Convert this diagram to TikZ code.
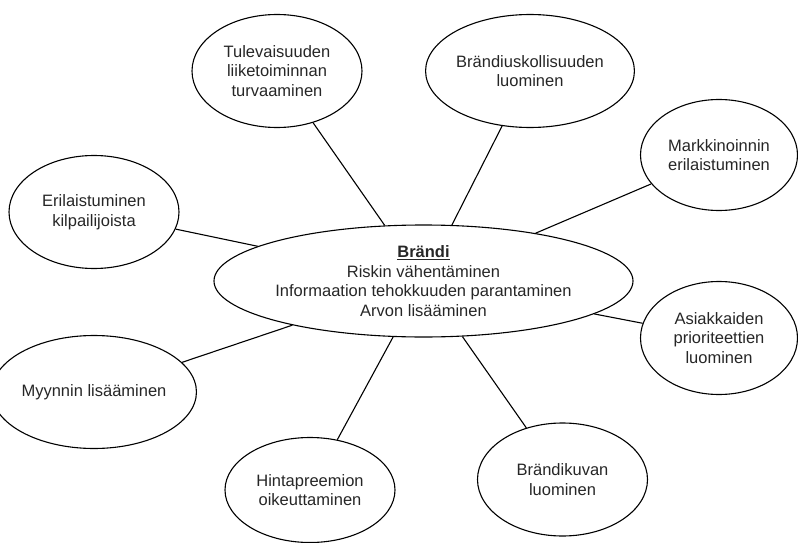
\documentclass[tikz,border=0pt]{standalone}
\usepackage{fontspec}
\setmainfont{Liberation Sans}
\usetikzlibrary{shapes.geometric}
\begin{document}
\begin{tikzpicture}[x=1pt,y=-1pt,
  bubble/.style={draw=black, line width=1.1pt, ellipse, inner sep=0pt, minimum width=170pt, minimum height=113pt, align=center, text=black!85, font=\fontsize{16.5}{19.5}\selectfont},
  core/.style={bubble, minimum width=356pt, minimum height=112pt},
  narrow/.style={minimum width=157pt},
  link/.style={draw=black, line width=1.1pt}]
\useasboundingbox (0,0) rectangle (798,543);
\node[core] (c) at (423.5,281) {\underline{\textbf{Brändi}}\\Riskin vähentäminen\\Informaation tehokkuuden parantaminen\\Arvon lisääminen};
\node[bubble] (t) at (277,71) {Tulevaisuuden\\liiketoiminnan\\turvaaminen};
\node[bubble] (b) at (530,71) {Brändiuskollisuuden\\luominen};
\node[bubble, narrow, minimum height=111pt] (m) at (719,155) {Markkinoinnin\\erilaistuminen};
\node[bubble] (e) at (94,212) {Erilaistuminen\\kilpailijoista};
\node[bubble, narrow] (a) at (719,338) {Asiakkaiden\\prioriteettien\\luominen};
\node[bubble] (y) at (94,392) {Myynnin lisääminen};
\node[bubble, minimum height=105pt] (h) at (310,490) {Hintapreemion\\oikeuttaminen};
\node[bubble] (k) at (562.5,479.5) {Brändikuvan\\luominen};
\foreach \n in {t,b,m,e,a,y,h,k} {\draw[link] (c) -- (\n);}
\end{tikzpicture}
\end{document}
